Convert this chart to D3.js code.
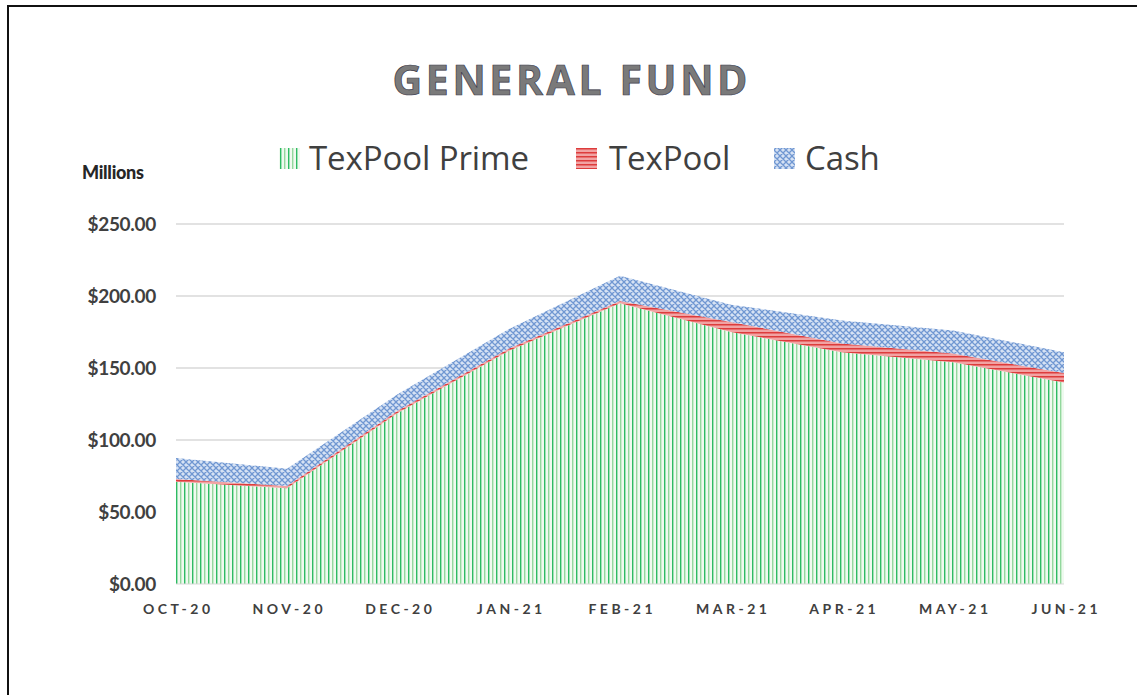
<!DOCTYPE html>
<html>
<head>
<meta charset="utf-8">
<script src="https://cdn.jsdelivr.net/npm/d3@7"></script>
<style>
  html, body { margin: 0; padding: 0; background: #ffffff; }
  svg { display: block; }
</style>
</head>
<body>
<svg id="chart" width="1137" height="695"></svg>
<script>
const categories = ["OCT-20", "NOV-20", "DEC-20", "JAN-21", "FEB-21", "MAR-21", "APR-21", "MAY-21", "JUN-21"];
const texpoolPrime = [71, 66.5, 119, 162, 195, 175, 161, 154, 140];
const texpool = [2, 1.5, 1.5, 1.5, 1.5, 7, 6, 6, 6.5];
const cash = [14.5, 12, 11.5, 13.5, 17.5, 12, 16, 16, 14.5];
const seriesNames = ["TexPool Prime", "TexPool", "Cash"];
const yTicks = [0, 50, 100, 150, 200, 250];

const svg = d3.select("#chart");
const W = 1137, H = 695;
const margin = { left: 176, right: 1137 - 1064, top: 224, bottom: 695 - 584 };

// border
svg.append("rect").attr("x", 8).attr("y", 6).attr("width", W + 20).attr("height", H + 20)
  .attr("fill", "#fff").attr("stroke", "#111").attr("stroke-width", 2);

// patterns
const defs = svg.append("defs");
const pPrime = defs.append("pattern").attr("id", "pPrime").attr("patternUnits", "userSpaceOnUse")
  .attr("width", 8).attr("height", 8);
pPrime.append("rect").attr("width", 8).attr("height", 8).attr("fill", "#effaef");
pPrime.append("rect").attr("x", 0).attr("width", 1.4).attr("height", 8).attr("fill", "#2dbb62");
pPrime.append("rect").attr("x", 4).attr("width", 1.4).attr("height", 8).attr("fill", "#93d89d");

const pTex = defs.append("pattern").attr("id", "pTex").attr("patternUnits", "userSpaceOnUse")
  .attr("width", 6).attr("height", 4);
pTex.append("rect").attr("width", 6).attr("height", 4).attr("fill", "#f1a3a3");
pTex.append("rect").attr("y", 0).attr("width", 6).attr("height", 1.5).attr("fill", "#dd3c3c");

const pCash = defs.append("pattern").attr("id", "pCash").attr("patternUnits", "userSpaceOnUse")
  .attr("width", 6).attr("height", 6);
pCash.append("rect").attr("width", 6).attr("height", 6).attr("fill", "#d6e2f4");
pCash.append("path").attr("d", "M0,0 L6,6 M6,0 L0,6 M-1,5 L1,7 M5,-1 L7,1 M-1,1 L1,-1 M5,7 L7,5")
  .attr("stroke", "#7097d2").attr("stroke-width", 1.3).attr("fill", "none");

const fills = ["url(#pPrime)", "url(#pTex)", "url(#pCash)"];

const x = d3.scalePoint().domain(categories).range([margin.left, W - margin.right]);
const y = d3.scaleLinear().domain([0, 250]).range([H - margin.bottom, margin.top]);

// gridlines
svg.append("g").selectAll("line").data(yTicks.filter(d => d > 0)).join("line")
  .attr("x1", margin.left).attr("x2", W - margin.right)
  .attr("y1", d => y(d)).attr("y2", d => y(d))
  .attr("stroke", "#d9d9d9").attr("stroke-width", 1.5);

// stacked data
const rows = categories.map((c, i) => ({ cat: c, "TexPool Prime": texpoolPrime[i], "TexPool": texpool[i], "Cash": cash[i] }));
const stack = d3.stack().keys(seriesNames)(rows);
const area = d3.area().x(d => x(d.data.cat)).y0(d => y(d[0])).y1(d => y(d[1]));

svg.append("g").selectAll("path").data(stack).join("path")
  .attr("d", area).attr("fill", (d, i) => fills[i]);

// baseline
svg.append("line").attr("x1", margin.left).attr("x2", W - margin.right)
  .attr("y1", y(0)).attr("y2", y(0)).attr("stroke", "#d9d9d9").attr("stroke-width", 1);

// y axis
const yAxis = d3.axisLeft(y).tickValues(yTicks).tickSize(0).tickPadding(20)
  .tickFormat(d => "$" + d3.format(".2f")(d));
const gy = svg.append("g").attr("transform", `translate(${margin.left},0)`).call(yAxis);
gy.select(".domain").remove();
gy.selectAll("text").attr("font-family", "Lato, 'Open Sans', sans-serif").attr("font-weight", "bold")
  .attr("font-size", 19).attr("fill", "#404040").attr("letter-spacing", "-0.3px");

// x axis
const xAxis = d3.axisBottom(x).tickSize(0).tickPadding(20);
const gx = svg.append("g").attr("transform", `translate(0,${y(0)})`).call(xAxis);
gx.select(".domain").remove();
gx.selectAll("text").attr("font-family", "Lato, 'Open Sans', sans-serif").attr("font-weight", "bold")
  .attr("font-size", 14).attr("fill", "#404040").attr("letter-spacing", "3.5px").attr("dx", "1.75px");

// Millions label
svg.append("text").attr("x", 82).attr("y", 179).text("Millions")
  .attr("font-family", "Lato, 'Open Sans', sans-serif").attr("font-weight", "900")
  .attr("font-size", 18).attr("fill", "#262626").attr("letter-spacing", "-0.3px");

// title
svg.append("text").attr("x", 570).attr("y", 95).attr("text-anchor", "middle").text("GENERAL FUND")
  .attr("font-family", "'Open Sans', sans-serif").attr("font-weight", "bold")
  .attr("font-size", 41).attr("letter-spacing", "3.6px").attr("dx", "1.8px")
  .attr("fill", "#7a7a7a").attr("stroke", "#3a3a4a").attr("stroke-width", 0.7);

// legend
const legendItems = [
  { name: seriesNames[0], sx: 279, tx: 309 },
  { name: seriesNames[1], sx: 576, tx: 609 },
  { name: seriesNames[2], sx: 774, tx: 805 }
];
const lg = svg.append("g");
legendItems.forEach((it, i) => {
  lg.append("rect").attr("x", it.sx).attr("y", 148).attr("width", 21).attr("height", 21).attr("fill", fills[i]);
  lg.append("text").attr("x", it.tx).attr("y", 170).text(it.name)
    .attr("font-family", "'Open Sans', sans-serif").attr("font-size", 33).attr("fill", "#404040")
    .attr("letter-spacing", "-0.1px");
});
</script>
</body>
</html>
